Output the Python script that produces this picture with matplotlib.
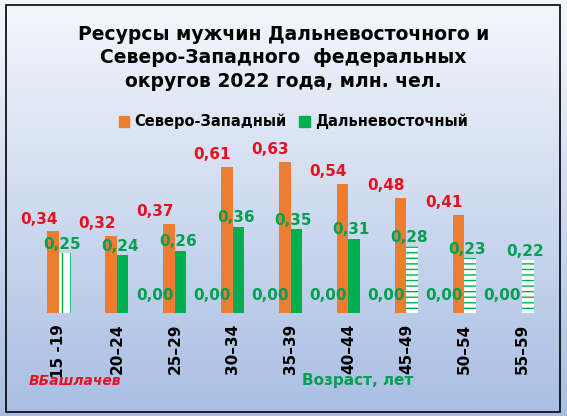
import numpy as np
import matplotlib.pyplot as plt
from matplotlib.patches import Rectangle
from matplotlib.colors import LinearSegmentedColormap

ages = ["15 -19", "20–24", "25–29", "30–34", "35–39", "40–44", "45–49", "50–54", "55–59"]
nw = [0.34, 0.32, 0.37, 0.61, 0.63, 0.54, 0.48, 0.41, None]
fe = [0.25, 0.24, 0.26, 0.36, 0.35, 0.31, 0.28, 0.23, 0.22]
zeros = [0.00] * 7  # hidden series, shown at 25-29 .. 55-59

ORANGE = "#ED7D31"
GREEN = "#00B050"

fig = plt.figure(figsize=(5.67, 4.16), dpi=100)
# background gradient
bg = fig.add_axes([0, 0, 1, 1], zorder=-10)
grad = np.linspace(0, 1, 256).reshape(-1, 1)
cmap = LinearSegmentedColormap.from_list("bg", ["#F4F7FC", "#A9BEE3"])
bg.imshow(grad, aspect="auto", cmap=cmap, extent=[0, 1, 0, 1], origin="upper")
bg.add_patch(Rectangle((0.011, 0.01), 0.977, 0.978, fill=False, lw=1.2, ec="black"))
bg.set_xlim(0, 1); bg.set_ylim(0, 1); bg.axis("off")

ax = fig.add_axes([0.053, 0.248, 0.919, 0.403])
ax.patch.set_alpha(0)
x = np.arange(len(ages))
w = 0.2
for i, v in enumerate(nw):
    if v is not None:
        ax.bar(i - w / 2, v, w, color=ORANGE)
        ax.text(i - 0.35, v + 0.02, f"{v:.2f}".replace(".", ","), color="#E8101E",
                fontsize=11, fontweight="bold", ha="center", va="bottom")
hatch_map = {0: "||", 6: "---", 7: "---", 8: "---"}
for i, v in enumerate(fe):
    if i in hatch_map:
        ax.bar(i + w / 2, v, w, color="white", edgecolor=GREEN, hatch=hatch_map[i], lw=0)
    else:
        ax.bar(i + w / 2, v, w, color=GREEN)
    ax.text(i + 0.05, v + 0.005, f"{v:.2f}".replace(".", ","), color="#00A050",
            fontsize=11, fontweight="bold", ha="center", va="bottom")
for k, v in enumerate(zeros):
    ax.text(k + 2 - 0.35, v + 0.04, f"{v:.2f}".replace(".", ","), color="#00A050",
            fontsize=11, fontweight="bold", ha="center", va="bottom")

ax.set_xlim(-0.5, len(ages) - 0.5)
ax.set_ylim(0, 0.7)
ax.set_xticks(x)
ax.set_xticklabels(ages, rotation=90, fontsize=11, fontweight="bold")
ax.tick_params(length=0, pad=8)
ax.set_yticks([])
for s in ax.spines.values():
    s.set_visible(False)

fig.text(0.5, 0.94, "Ресурсы мужчин Дальневосточного и\nСеверо-Западного  федеральных\nокругов 2022 года, млн. чел.",
         ha="center", va="top", fontsize=13.5, fontweight="bold", linespacing=1.3)
fig.patches.append(Rectangle((0.21, 0.695), 0.018, 0.026, color=ORANGE, transform=fig.transFigure))
fig.text(0.237, 0.708, "Северо-Западный", fontsize=10.5, fontweight="bold", va="center")
fig.patches.append(Rectangle((0.528, 0.695), 0.018, 0.026, color=GREEN, transform=fig.transFigure))
fig.text(0.555, 0.708, "Дальневосточный", fontsize=10.5, fontweight="bold", va="center")

fig.text(0.63, 0.075, "Возраст, лет", color="#00A050", fontsize=11, fontweight="bold", ha="center")
fig.text(0.05, 0.075, "ВБашлачев", color="#E8101E", fontsize=10, fontweight="bold", style="italic")

fig.savefig("out.png", dpi=100)
